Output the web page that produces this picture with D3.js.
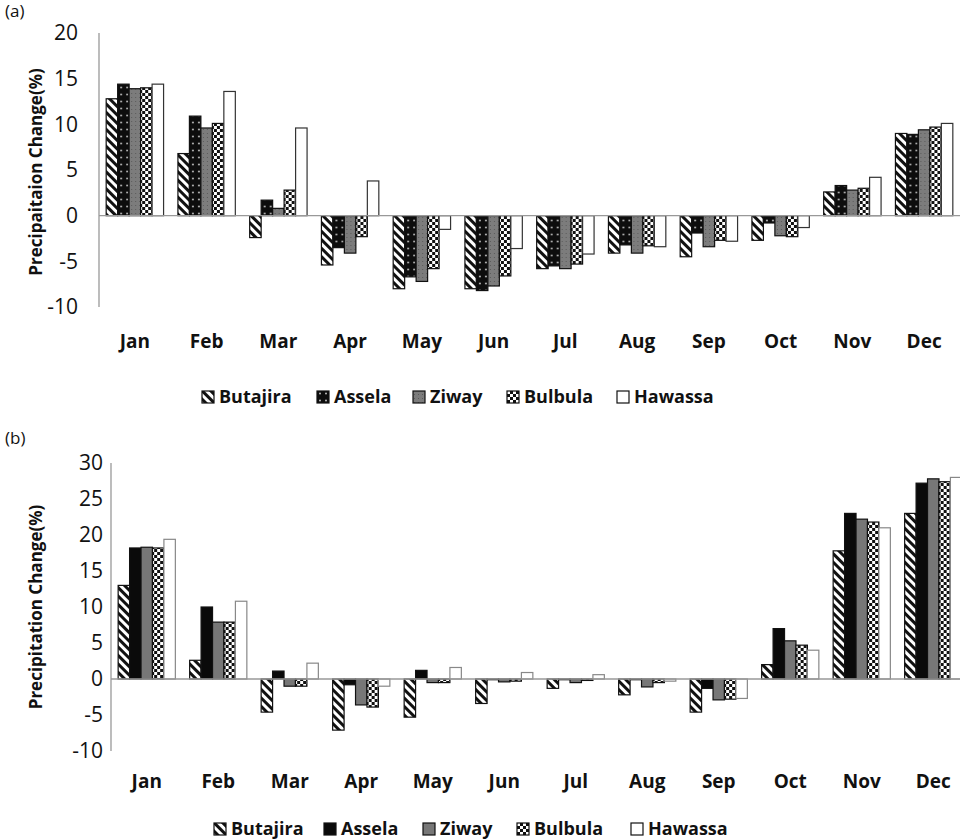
<!DOCTYPE html>
<html lang="en">
  <head>
    <meta charset="utf-8">
    <title>Precipitation change</title>
    <script src="https://d3js.org/d3.v7.min.js"></script>
    <style>
      body { margin: 0; background: #fff; }
      svg text { font-family: "Open Sans", sans-serif; fill: #111; }
    </style>
  </head>
<body>
  <svg id="chart" width="960" height="840"></svg>

  <script type="text/javascript">
    var months = ["Jan", "Feb", "Mar", "Apr", "May", "Jun", "Jul", "Aug", "Sep", "Oct", "Nov", "Dec"];
    var stations = ["Butajira", "Assela", "Ziway", "Bulbula", "Hawassa"];

    var ticksA = [-10, -5, 0, 5, 10, 15, 20];
    var ticksB = [-10, -5, 0, 5, 10, 15, 20, 25, 30];

    // panel (a)
    var butajiraA = [12.8, 6.8, -2.4, -5.4, -8.0, -8.0, -5.8, -4.1, -4.5, -2.7, 2.6, 9.0];
    var asselaA   = [14.4, 10.9, 1.7, -3.5, -6.7, -8.2, -5.5, -3.2, -1.9, -0.8, 3.3, 8.9];
    var ziwayA    = [13.9, 9.6, 0.8, -4.1, -7.2, -7.7, -5.8, -4.1, -3.4, -2.2, 2.8, 9.4];
    var bulbulaA  = [14.0, 10.1, 2.8, -2.3, -5.8, -6.6, -5.3, -3.3, -2.7, -2.3, 3.0, 9.7];
    var hawassaA  = [14.4, 13.6, 9.6, 3.8, -1.5, -3.6, -4.2, -3.4, -2.8, -1.3, 4.2, 10.1];

    // panel (b)
    var butajiraB = [13.0, 2.6, -4.6, -7.1, -5.3, -3.4, -1.3, -2.2, -4.6, 2.0, 17.8, 23.0];
    var asselaB   = [18.2, 10.0, 1.1, -0.8, 1.2, -0.1, -0.1, -0.1, -1.3, 7.0, 23.0, 27.2];
    var ziwayB    = [18.3, 7.9, -1.0, -3.6, -0.5, -0.4, -0.5, -1.1, -2.9, 5.3, 22.2, 27.8];
    var bulbulaB  = [18.2, 7.9, -1.0, -3.9, -0.5, -0.3, -0.2, -0.5, -2.8, 4.7, 21.8, 27.4];
    var hawassaB  = [19.4, 10.8, 2.2, -1.0, 1.6, 0.9, 0.6, -0.3, -2.7, 4.0, 21.0, 28.0];

    var svg = d3.select("#chart");
    var defs = svg.append("defs");

    // fill patterns
    var stripe = defs.append("pattern").attr("id", "stripe")
        .attr("patternUnits", "userSpaceOnUse").attr("width", 6).attr("height", 6)
        .attr("patternTransform", "rotate(45)");
    stripe.append("rect").attr("width", 6).attr("height", 6).attr("fill", "#fff");
    stripe.append("rect").attr("width", 6).attr("height", 3).attr("fill", "#111");

    var dots = defs.append("pattern").attr("id", "dots")
        .attr("patternUnits", "userSpaceOnUse").attr("width", 6).attr("height", 7);
    dots.append("rect").attr("width", 6).attr("height", 7).attr("fill", "#0d0d0d");
    dots.append("circle").attr("cx", 3).attr("cy", 3.5).attr("r", 1).attr("fill", "#bbb");

    var grey = defs.append("pattern").attr("id", "grey")
        .attr("patternUnits", "userSpaceOnUse").attr("width", 4).attr("height", 4);
    grey.append("rect").attr("width", 4).attr("height", 4).attr("fill", "#7c7c7c");
    grey.append("rect").attr("x", 1).attr("y", 1).attr("width", 1).attr("height", 1).attr("fill", "#5a5a5a");

    var checker = defs.append("pattern").attr("id", "checker")
        .attr("patternUnits", "userSpaceOnUse").attr("width", 6).attr("height", 6);
    checker.append("rect").attr("width", 6).attr("height", 6).attr("fill", "#111");
    checker.append("rect").attr("width", 3).attr("height", 3).attr("fill", "#fff");
    checker.append("rect").attr("x", 3).attr("y", 3).attr("width", 3).attr("height", 3).attr("fill", "#fff");

    var fillsA = {Butajira: "url(#stripe)", Assela: "url(#dots)", Ziway: "url(#grey)", Bulbula: "url(#checker)", Hawassa: "#fff"};
    var fillsB = {Butajira: "url(#stripe)", Assela: "#0a0a0a", Ziway: "#777", Bulbula: "url(#checker)", Hawassa: "#fff"};

    function panel(opt) {
        var g = svg.append("g");

        var x0 = d3.scaleBand().domain(months).range([opt.left, opt.right])
            .paddingInner(0.2).paddingOuter(0.1);
        var x1 = d3.scaleBand().domain(stations).range([0, x0.bandwidth()]);
        var y = d3.scaleLinear().domain([opt.ticks[0], opt.ticks[opt.ticks.length - 1]])
            .range([opt.bottom, opt.top]);

        // y axis
        g.append("line")
            .attr("x1", opt.left).attr("x2", opt.left)
            .attr("y1", y.range()[0]).attr("y2", y.range()[1])
            .attr("stroke", "#999").attr("stroke-width", 1.3);

        g.selectAll(".ytick").data(opt.ticks).enter().append("text")
            .attr("x", opt.tickX).attr("y", function(d) { return y(d); })
            .attr("dy", "0.35em").attr("text-anchor", "end")
            .style("font-size", "21px")
            .text(function(d) { return d; });

        g.append("text")
            .attr("transform", "translate(" + opt.labelX + "," + opt.labelY + ") rotate(-90)")
            .attr("text-anchor", "middle").attr("dy", "0.35em")
            .style("font-size", "17px").style("font-weight", "bold")
            .text(opt.ylabel);

        g.append("text").attr("x", 5).attr("y", opt.tagY)
            .style("font-size", "17px").text(opt.tag);

        // bars
        var groups = g.selectAll(".month").data(months).enter().append("g")
            .attr("transform", function(d) { return "translate(" + x0(d) + ",0)"; });

        groups.selectAll("rect")
            .data(function(m, i) {
                return stations.map(function(s) { return {station: s, value: opt.series[s][i]}; });
            })
            .enter().append("rect")
            .attr("x", function(d) { return x1(d.station); })
            .attr("width", x1.bandwidth())
            .attr("y", function(d) { return y(Math.max(0, d.value)); })
            .attr("height", function(d) { return Math.abs(y(d.value) - y(0)); })
            .attr("fill", function(d) { return opt.fills[d.station]; })
            .attr("stroke", function(d) { return d.station == "Hawassa" ? opt.hawStroke : "#111"; })
            .attr("stroke-width", 1.2);

        // zero line
        g.append("line")
            .attr("x1", opt.left).attr("x2", 960)
            .attr("y1", y(0)).attr("y2", y(0))
            .attr("stroke", "#999").attr("stroke-width", 1.3);

        // month labels
        g.selectAll(".mlab").data(months).enter().append("text")
            .attr("x", function(d) { return x0(d) + x0.bandwidth() / 2; })
            .attr("y", opt.monthY).attr("dy", "0.35em")
            .attr("text-anchor", "middle")
            .style("font-size", "19px").style("font-weight", "bold")
            .text(function(d) { return d; });

        // legend
        var leg = g.selectAll(".leg").data(stations).enter().append("g")
            .attr("transform", function(d, i) { return "translate(" + opt.legX[i] + "," + opt.legY + ")"; });
        leg.append("rect")
            .attr("x", 0).attr("y", -6).attr("width", 12).attr("height", 12)
            .attr("fill", function(d) { return opt.fills[d]; })
            .attr("stroke", "#111").attr("stroke-width", 1.2);
        leg.append("text")
            .attr("x", 17).attr("dy", "0.35em")
            .style("font-size", "18px").style("font-weight", "bold")
            .text(function(d) { return d; });
    }

    panel({
        tag: "(a)", tagY: 17,
        ylabel: "Precipaitaion Change(%)",
        ticks: ticksA, left: 99, right: 960, top: 33, bottom: 307,
        tickX: 78, labelX: 36, labelY: 172, monthY: 341,
        legY: 397, legX: [202, 317, 413, 507, 617],
        series: {Butajira: butajiraA, Assela: asselaA, Ziway: ziwayA, Bulbula: bulbulaA, Hawassa: hawassaA},
        fills: fillsA, hawStroke: "#333"
    });

    panel({
        tag: "(b)", tagY: 444,
        ylabel: "Precipitation Change(%)",
        ticks: ticksB, left: 111, right: 969, top: 463, bottom: 751,
        tickX: 103, labelX: 36, labelY: 607, monthY: 781,
        legY: 829, legX: [214, 324, 423, 517, 631],
        series: {Butajira: butajiraB, Assela: asselaB, Ziway: ziwayB, Bulbula: bulbulaB, Hawassa: hawassaB},
        fills: fillsB, hawStroke: "#888"
    });
  </script>
</body>
</html>
